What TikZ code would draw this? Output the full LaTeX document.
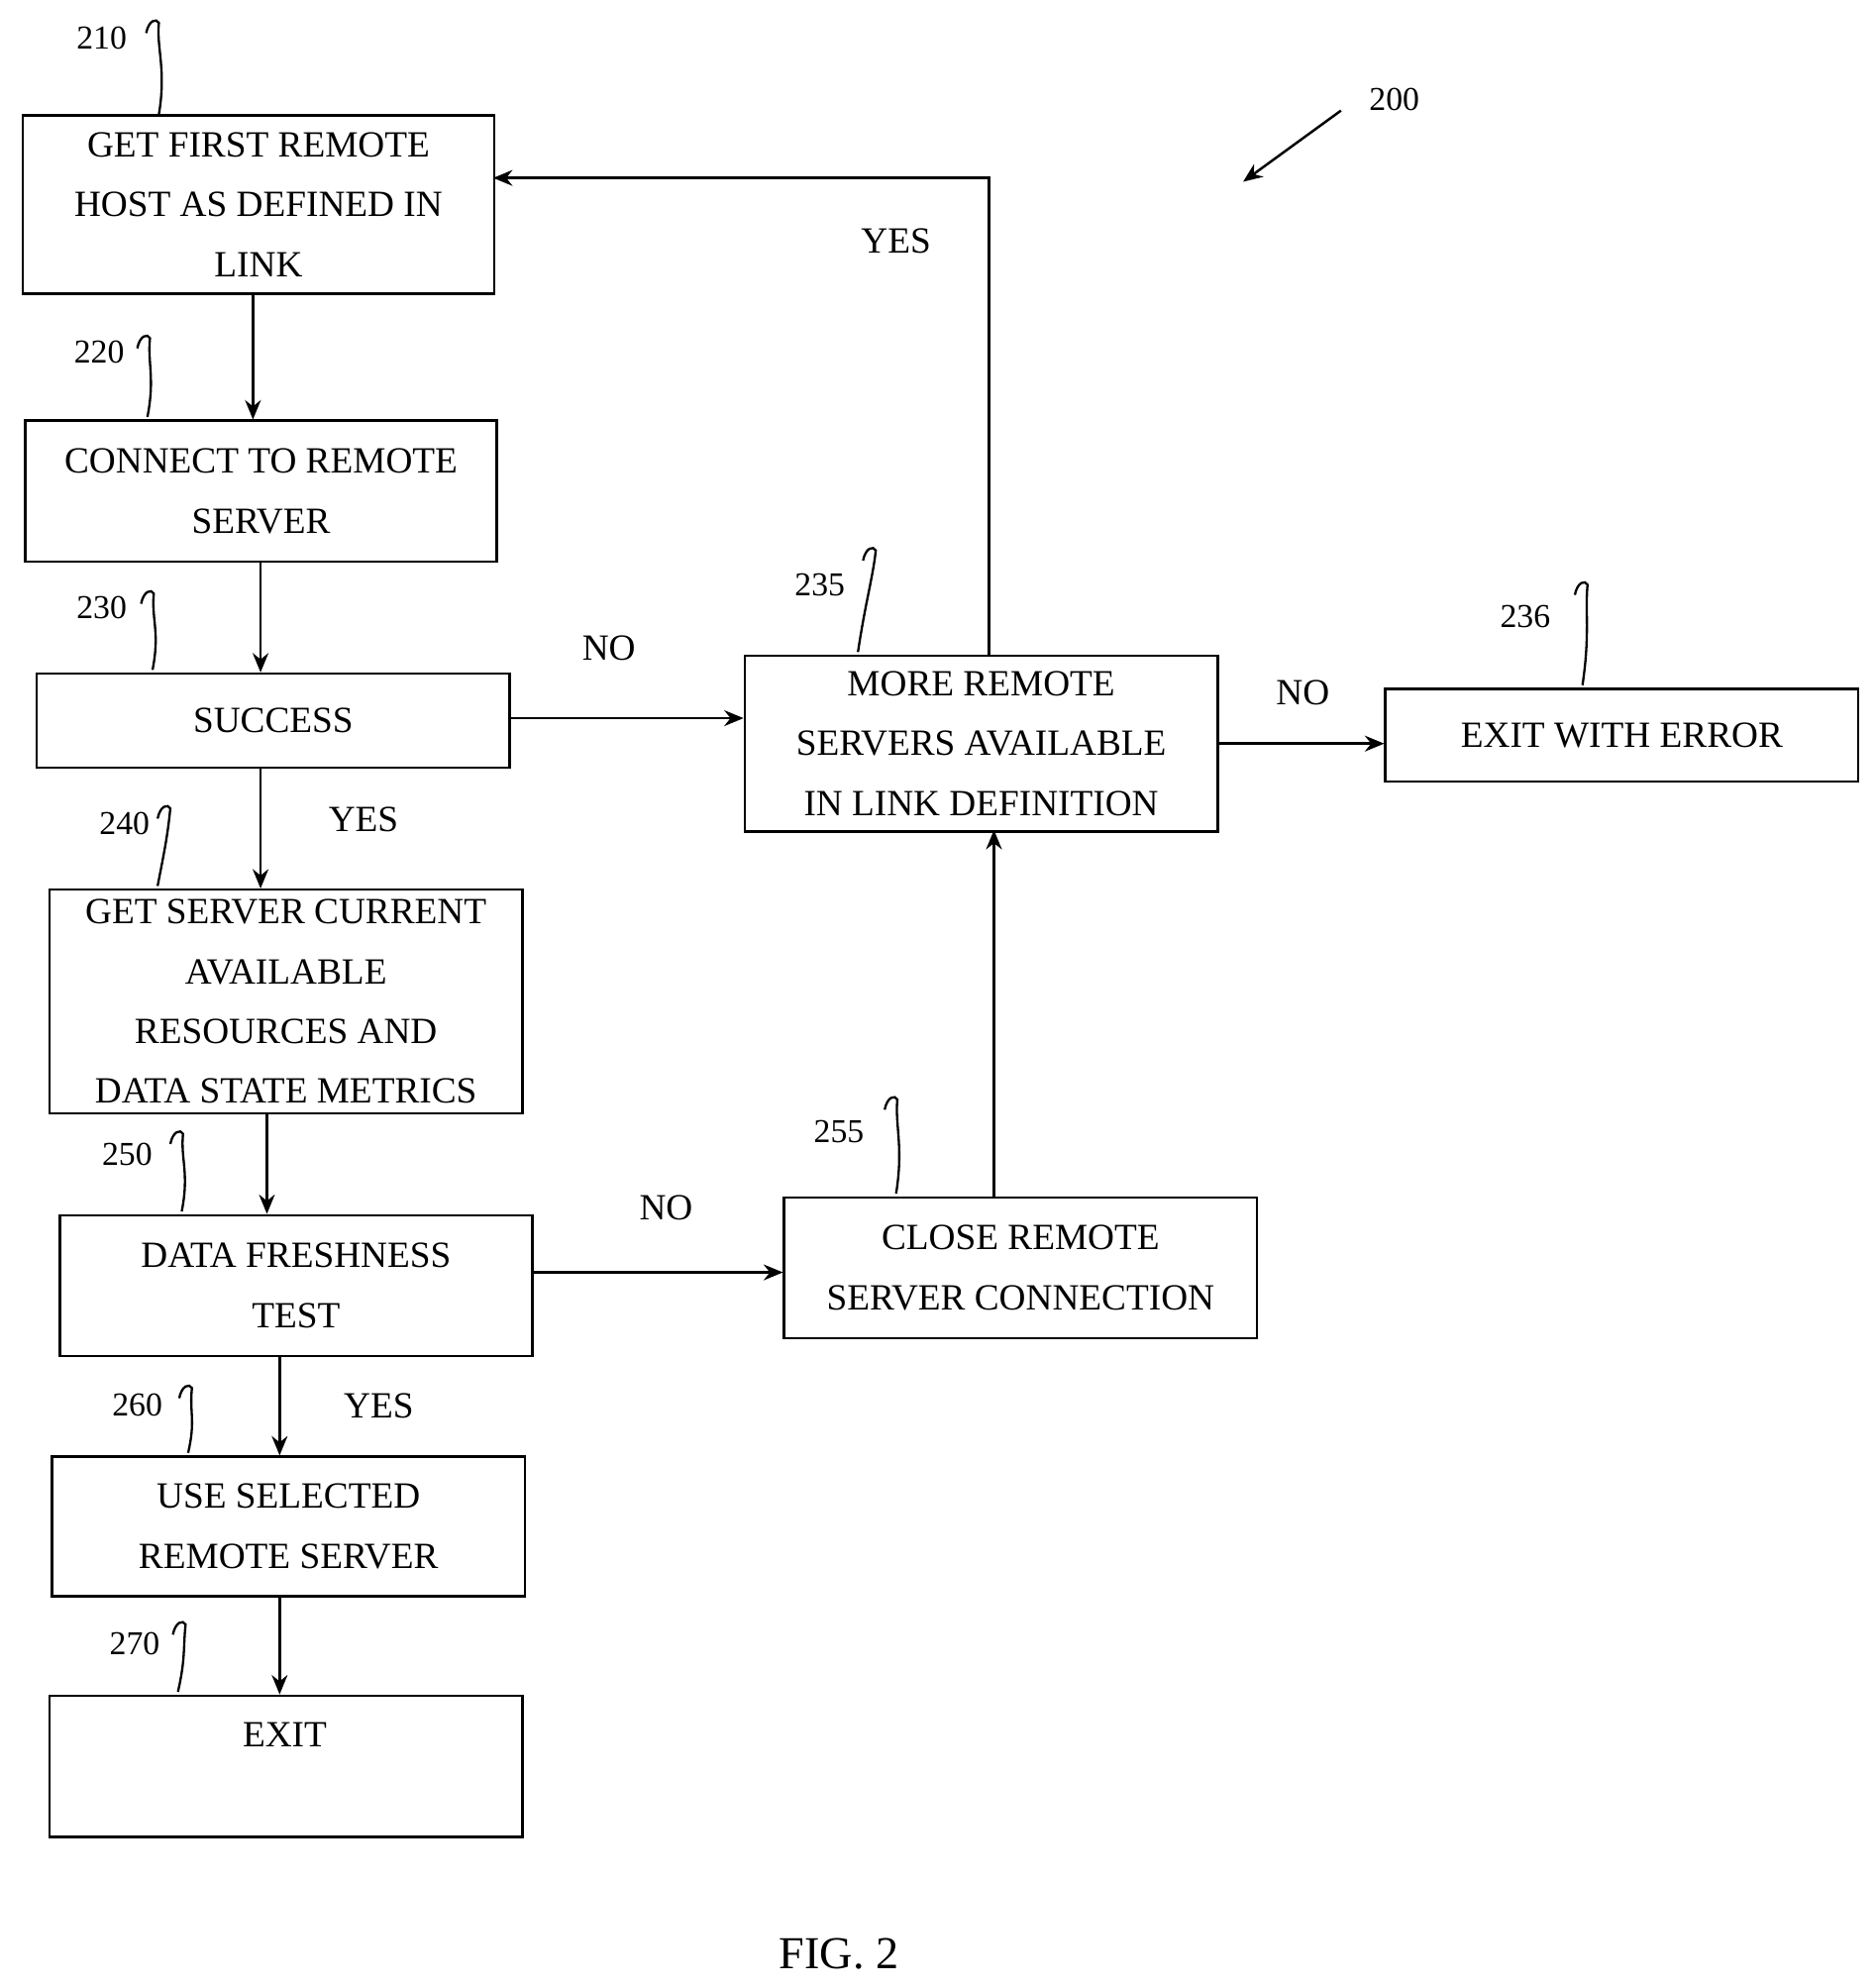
\documentclass[tikz,border=0pt]{standalone}
\usepackage{fontspec}
\setmainfont{Liberation Serif}
\usetikzlibrary{arrows.meta}
\newcommand\myleader[4]{\draw[ld] (#1,#2) .. controls (#1+6,{(#2+#4)/2}) and (#3-2,#4+20) .. (#3,#4) .. controls (#3-2,#4-4) and (#3-8,#4-2) .. (#3-10,#4+8);}
\begin{document}
\begin{tikzpicture}[x=0.0254cm,y=-0.0254cm,
  box/.style={draw,line width=1.4pt,anchor=north west,align=center,inner sep=0pt,font=\fontsize{21}{34}\selectfont},
  lbl/.style={font=\fontsize{21}{25}\selectfont},
  num/.style={font=\fontsize{19}{22}\selectfont},
  arr/.style={line width=1.4pt,-{Stealth[length=11pt,width=9pt]}},
  ld/.style={line width=1.3pt}]
\useasboundingbox (0,0) rectangle (1475,1564);
\node[box,minimum width=371\pgflinewidth/1.4*0.0254cm*0+9.42cm,minimum height=3.56cm] (b210) at (17,90) {GET FIRST REMOTE\\HOST AS DEFINED IN\\LINK};
\node[box,minimum width=9.42cm,minimum height=2.82cm] (b220) at (19,330) {CONNECT TO REMOTE\\SERVER};
\node[box,minimum width=9.45cm,minimum height=1.88cm] (b230) at (28,529) {SUCCESS};
\node[box,minimum width=9.45cm,minimum height=4.47cm] (b240) at (38,699) {GET SERVER CURRENT\\AVAILABLE\\RESOURCES AND\\DATA STATE METRICS};
\node[box,minimum width=9.45cm,minimum height=2.82cm] (b250) at (46,955) {DATA FRESHNESS\\TEST};
\node[box,minimum width=9.45cm,minimum height=2.79cm] (b260) at (40,1145) {USE SELECTED\\REMOTE SERVER};
\node[box,minimum width=9.45cm,minimum height=2.82cm,minimum height=2.82cm] (b270) at (38,1333) {};
\node[lbl] (t270) at (224,1365) {EXIT};
\node[box,minimum width=9.45cm,minimum height=3.51cm] (b235) at (585,515) {MORE REMOTE\\SERVERS AVAILABLE\\IN LINK DEFINITION};
\node[box,minimum width=9.45cm,minimum height=1.85cm] (b236) at (1089,541) {EXIT WITH ERROR};
\node[box,minimum width=9.45cm,minimum height=2.82cm] (b255) at (616,941) {CLOSE REMOTE\\SERVER CONNECTION};
\draw[arr] (199,230) -- (199,330);
\draw[arr] (205,441) -- (205,529);
\draw[arr] (205,603) -- (205,699);
\draw[arr] (210,875) -- (210,955);
\draw[arr] (220,1066) -- (220,1145);
\draw[arr] (220,1255) -- (220,1333);
\draw[arr] (400,565) -- (585,565);
\draw[arr] (957,585) -- (1089,585);
\draw[arr] (418,1001) -- (616,1001);
\draw[arr] (782,941) -- (782,653);
\draw[arr] (778,515) -- (778,140) -- (388,140);
\node[lbl] (n1) at (479,510) {NO};
\node[lbl] (y1) at (286,645) {YES};
\node[lbl] (n2) at (524,950) {NO};
\node[lbl] (y2) at (298,1106) {YES};
\node[lbl] (n3) at (1025,545) {NO};
\node[lbl] (y3) at (705,190) {YES};
\node[num] (r210) at (80,30) {210}; \myleader{125}{90}{125}{18}
\node[num] (r220) at (78,277) {220}; \myleader{116}{328}{118}{266}
\node[num] (r230) at (80,478) {230}; \myleader{120}{527}{121}{467}
\node[num] (r240) at (98,648) {240}; \myleader{124}{697}{134}{636}
\node[num] (r250) at (100,908) {250}; \myleader{143}{953}{144}{892}
\node[num] (r260) at (108,1105) {260}; \myleader{148}{1143}{151}{1092}
\node[num] (r270) at (106,1293) {270}; \myleader{140}{1331}{146}{1278}
\node[num] (r235) at (645,460) {235}; \myleader{675}{513}{689}{433}
\node[num] (r236) at (1200,485) {236}; \myleader{1245}{539}{1249}{460}
\node[num] (r255) at (660,890) {255}; \myleader{705}{939}{706}{865}
\node[num] (r200) at (1097,78) {200};
\coordinate (a200) at (1055,87);
\coordinate (h200) at (978,143);
\draw[arr] (a200) -- (h200);
\node[font=\fontsize{26}{30}\selectfont] (fig) at (660,1537) {FIG. 2};
\end{tikzpicture}
\end{document}
